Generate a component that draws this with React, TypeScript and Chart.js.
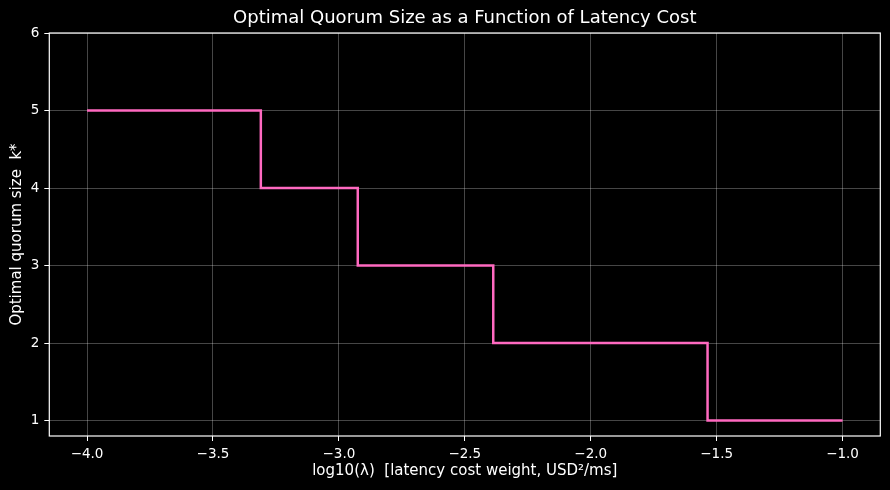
import React, { useEffect, useRef } from "react";
import { Chart, registerables } from "chart.js";

Chart.register(...registerables);

const TITLE = "Optimal Quorum Size as a Function of Latency Cost";
const X_LABEL = "log10(λ)  [latency cost weight, USD²/ms]";
const Y_LABEL = "Optimal quorum size  k*";

// breakpoints of log10(lambda) and optimal k* (step-before)
const LOG_LAMBDA = [-4.0, -3.31, -2.925, -2.387, -1.536, -1.0];
const K_STAR = [5, 4, 3, 2, 1, 1];

const X_TICKS = [-4.0, -3.5, -3.0, -2.5, -2.0, -1.5, -1.0];
const Y_TICKS = [1, 2, 3, 4, 5, 6];

const FONT = "'DejaVu Sans', sans-serif";

const fmtX = (v: number) => v.toFixed(1).replace("-", "\u2212");

export default function App() {
  const ref = useRef<HTMLCanvasElement | null>(null);

  useEffect(() => {
    document.body.style.margin = "0";
    document.body.style.background = "#000";
    const canvas = ref.current!;
    const frame = {
      id: "frame",
      afterDraw(chart: any) {
        const { ctx, chartArea: a } = chart;
        ctx.save();
        ctx.strokeStyle = "#ffffff";
        ctx.lineWidth = 1.2;
        ctx.strokeRect(a.left, a.top, a.right - a.left, a.bottom - a.top);
        ctx.fillStyle = "#ffffff";
        ctx.textAlign = "center";
        ctx.textBaseline = "middle";
        ctx.font = `18px ${FONT}`;
        ctx.fillText(TITLE, (a.left + a.right) / 2, 18);
        ctx.font = `15px ${FONT}`;
        ctx.fillText(X_LABEL, (a.left + a.right) / 2, 471);
        ctx.translate(17, (a.top + a.bottom) / 2);
        ctx.rotate(-Math.PI / 2);
        ctx.fillText(Y_LABEL, 0, 0);
        ctx.restore();
      },
    };
    const chart = new Chart(canvas, {
      type: "line",
      data: {
        datasets: [
          {
            data: LOG_LAMBDA.map((x, i) => ({ x, y: K_STAR[i] })),
            borderColor: "#ff69c0",
            borderWidth: 2.5,
            pointRadius: 0,
            stepped: "before",
            fill: false,
          },
        ],
      },
      options: {
        animation: false,
        responsive: false,
        devicePixelRatio: 1,
        layout: { autoPadding: false, padding: { top: 33, right: 9.7, left: 0, bottom: 0 } },
        plugins: { legend: { display: false }, tooltip: { enabled: false }, title: { display: false } },
        scales: {
          x: {
            type: "linear",
            min: -4.15,
            max: -0.85,
            afterFit: (s: any) => { s.height = 54; },
            afterBuildTicks: (s: any) => { s.ticks = X_TICKS.map((v) => ({ value: v })); },
            grid: { color: "rgba(255,255,255,0.35)", lineWidth: 0.8, tickColor: "#ffffff", tickLength: 5, tickWidth: 1 },
            border: { display: false },
            ticks: {
              color: "#ffffff",
              font: { family: FONT, size: 13.5 },
              padding: 5,
              maxRotation: 0,
              autoSkip: false,
              callback: (v: any) => fmtX(Number(v)),
            },
          },
          y: {
            type: "linear",
            min: 0.8,
            max: 6,
            afterFit: (s: any) => { s.width = 49.3; },
            afterBuildTicks: (s: any) => { s.ticks = Y_TICKS.map((v) => ({ value: v })); },
            grid: { color: "rgba(255,255,255,0.35)", lineWidth: 0.8, tickColor: "#ffffff", tickLength: 5, tickWidth: 1 },
            border: { display: false },
            ticks: {
              color: "#ffffff",
              font: { family: FONT, size: 13.5 },
              padding: 5,
              autoSkip: false,
              callback: (v: any) => String(v),
            },
          },
        },
      },
      plugins: [frame],
    } as any);
    return () => chart.destroy();
  }, []);

  return (
    <div style={{ position: "fixed", left: 0, top: 0, width: 890, height: 490, background: "#000" }}>
      <canvas ref={ref} width={890} height={490} style={{ width: 890, height: 490 }} />
    </div>
  );
}
